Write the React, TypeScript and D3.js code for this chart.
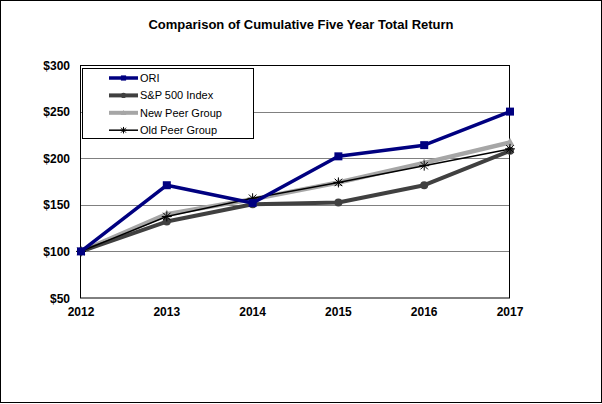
import React from "react";
import * as d3 from "d3";

const years = ["2012", "2013", "2014", "2015", "2016", "2017"];
const ori = [100, 171, 152, 202, 214, 250];
const sp500 = [100, 132, 150.5, 152.5, 171, 208];
const newPeer = [100, 140, 156, 174, 195, 217];
const oldPeer = [100, 137.5, 157, 174, 192, 210];
const yTicks = [50, 100, 150, 200, 250, 300];
const title = "Comparison of Cumulative Five Year Total Return";

const seriesNames = ["ORI", "S&P 500 Index", "New Peer Group", "Old Peer Group"];

export default function App() {
  const W = 602, H = 404;
  const x = d3.scalePoint<string>().domain(years).range([81, 510]);
  const y = d3.scaleLinear().domain([50, 300]).range([298, 65]);
  const line = d3.line<number>().x((_, i) => x(years[i])!).y((d) => y(d));

  const series = [
    { name: seriesNames[0], data: ori, color: "#000080", width: 3.5, marker: "square" },
    { name: seriesNames[1], data: sp500, color: "#404040", width: 4, marker: "circle" },
    { name: seriesNames[2], data: newPeer, color: "#a6a6a6", width: 4.5, marker: "triangle" },
    { name: seriesNames[3], data: oldPeer, color: "#000000", width: 1.5, marker: "star" },
  ];

  const drawOrder = [2, 1, 3, 0];

  const marker = (m: string, cx: number, cy: number, color: string, key: string, s = 1) => {
    if (m === "square") return <rect key={key} x={cx - 4 * s} y={cy - 4 * s} width={8 * s} height={8 * s} fill={color} />;
    if (m === "circle") return <circle key={key} cx={cx} cy={cy} r={4 * s} fill={color} />;
    if (m === "triangle") return <path key={key} d={`M${cx},${cy - 4.5 * s}L${cx + 4.5 * s},${cy + 3.5 * s}L${cx - 4.5 * s},${cy + 3.5 * s}Z`} fill={color} />;
    const r = 5 * s;
    return (
      <g key={key} stroke={color} strokeWidth={1}>
        <line x1={cx - r} y1={cy} x2={cx + r} y2={cy} />
        <line x1={cx} y1={cy - r} x2={cx} y2={cy + r} />
        <line x1={cx - r * 0.75} y1={cy - r * 0.75} x2={cx + r * 0.75} y2={cy + r * 0.75} />
        <line x1={cx - r * 0.75} y1={cy + r * 0.75} x2={cx + r * 0.75} y2={cy - r * 0.75} />
      </g>
    );
  };

  return (
    <svg width={W} height={H} style={{ position: "absolute", left: 0, top: 0 }} fontFamily="'Liberation Sans', Arial, sans-serif">
      <rect x={0} y={0} width={W} height={H} fill="#fff" />
      <rect x={0.5} y={0.5} width={601} height={402} fill="none" stroke="#000" strokeWidth={1} />
      <text x={301} y={29} textAnchor="middle" fontSize={13} fontWeight="bold" fill="#000">{title}</text>
      {yTicks.filter((t) => t !== 50 && t !== 300).map((t) => (
        <line key={t} x1={81} x2={510} y1={Math.round(y(t)) + 0.5} y2={Math.round(y(t)) + 0.5} stroke="#808080" strokeWidth={1} />
      ))}
      <rect x={80.5} y={65.5} width={429} height={232.5} fill="none" stroke="#000" strokeWidth={1} />
      {yTicks.map((t) => (
        <text key={t} x={70} y={y(t) + 4.5} textAnchor="end" fontSize={12} fontWeight="bold" fill="#000">${t}</text>
      ))}
      {years.map((yr) => (
        <text key={yr} x={x(yr)!} y={316} textAnchor="middle" fontSize={12} fontWeight="bold" fill="#000">{yr}</text>
      ))}
      {drawOrder.map((i) => {
        const s = series[i];
        return (
          <g key={s.name}>
            <path d={line(s.data)!} fill="none" stroke={s.color} strokeWidth={s.width} strokeLinejoin="round" />
            {s.data.map((v, j) => marker(s.marker, x(years[j])!, y(v), s.color, `${s.name}-${j}`))}
          </g>
        );
      })}
      <rect x={82.5} y={68.5} width={171} height={70} fill="#fff" stroke="#000" strokeWidth={1} />
      {series.map((s, i) => {
        const ly = 78 + i * 17.4;
        return (
          <g key={s.name}>
            <line x1={109} x2={138} y1={ly} y2={ly} stroke={s.color} strokeWidth={Math.min(s.width, 4)} />
            {marker(s.marker, 123.5, ly, s.color, `leg-${i}`, 0.65)}
            <text x={140} y={ly + 4} fontSize={11} fill="#000">{s.name}</text>
          </g>
        );
      })}
    </svg>
  );
}
